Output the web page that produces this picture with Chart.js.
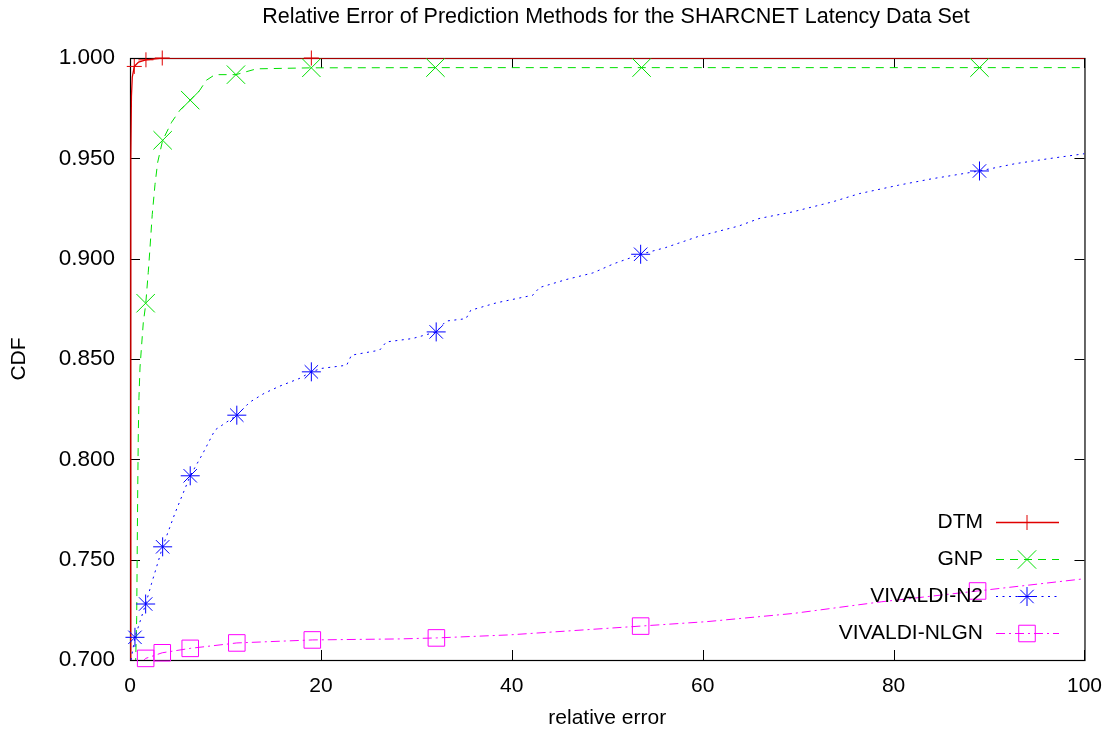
<!DOCTYPE html>
<html>
<head>
<meta charset="utf-8">
<title>Relative Error of Prediction Methods</title>
<script src="https://cdn.jsdelivr.net/npm/chart.js@4.4.1/dist/chart.umd.min.js"></script>
<style>
  html, body { margin: 0; padding: 0; background: #fff; }
  canvas { display: block; }
</style>
</head>
<body>
<canvas id="c" width="1116" height="731"></canvas>
<script>
// ---- text ----
const chartTitle = 'Relative Error of Prediction Methods for the SHARCNET Latency Data Set';
const xTitle = 'relative error';
const yTitle = 'CDF';
const seriesNames = ['DTM', 'GNP', 'VIVALDI-N2', 'VIVALDI-NLGN'];

// ---- axes ----
const xTicks = [0, 20, 40, 60, 80, 100];
const yTicks = [0.70, 0.75, 0.80, 0.85, 0.90, 0.95, 1.00];

// ---- DTM ----
const dtmX = [0.05, 0.07, 0.10, 0.15, 0.24, 0.45, 0.9, 1.67, 3.38, 19.0, 100];
const dtmY = [0.600, 0.850, 0.950, 0.981, 0.9905, 0.9958, 0.998, 0.9991, 1.0, 1.0, 1.0];
const dtmMarkX = [0.45, 1.67, 3.38, 19.0];
const dtmMarkY = [0.9958, 0.9991, 1.0, 1.0];

// ---- GNP ----
const gnpX = [0.55, 0.62, 0.70, 0.80, 0.87, 0.94, 1.05, 1.39, 1.64, 1.91, 2.09, 2.33, 2.62, 2.90, 3.42, 4.36, 5.23, 6.31, 7.32, 8.0, 8.9, 11.1, 13.25, 19.0, 32.0, 53.6, 89.0, 100];
const gnpY = [0.690, 0.705, 0.721, 0.780, 0.813, 0.831, 0.846, 0.868, 0.877, 0.893, 0.905, 0.922, 0.937, 0.948, 0.959, 0.968, 0.974, 0.979, 0.984, 0.9889, 0.9917, 0.9917, 0.9946, 0.9951, 0.9952, 0.9952, 0.9952, 0.9952];
const gnpMarkX = [1.64, 3.42, 6.31, 11.1, 19.0, 32.0, 53.6, 89.0];
const gnpMarkY = [0.8778, 0.959, 0.979, 0.9917, 0.9951, 0.9952, 0.9952, 0.9952];

// ---- VIVALDI-N2 ----
const n2X = [0.10, 0.52, 1.64, 2.27, 3.42, 4.7, 6.31, 7.64, 8.9, 11.19, 12.55, 14.1, 15.7, 17.8, 19.0, 20.05, 22.7, 23.2, 26.15, 26.85, 29.6, 32.08, 33.1, 35.2, 35.7, 38.4, 42.2, 42.9, 45.7, 48.5, 50.7, 53.5, 56.1, 59.5, 63.8, 65.9, 69.4, 73.6, 76.4, 80.5, 84.0, 89.0, 92.7, 96.2, 100];
const n2Y = [0.700, 0.7113, 0.7279, 0.7383, 0.7564, 0.773, 0.7918, 0.803, 0.8146, 0.822, 0.8285, 0.833, 0.8365, 0.8404, 0.8436, 0.8453, 0.8469, 0.8519, 0.8544, 0.8585, 0.8602, 0.8635, 0.8689, 0.8701, 0.8743, 0.878, 0.8818, 0.8856, 0.8896, 0.8929, 0.8975, 0.9022, 0.9055, 0.911, 0.9163, 0.920, 0.9233, 0.9283, 0.9324, 0.9366, 0.9398, 0.9437, 0.9473, 0.9498, 0.9523];
const n2MarkX = [0.52, 1.64, 3.42, 6.31, 11.19, 19.0, 32.08, 53.5, 89.0];
const n2MarkY = [0.7113, 0.7279, 0.7564, 0.7918, 0.822, 0.8436, 0.8635, 0.9022, 0.9437];

// ---- VIVALDI-NLGN ----
const nlgnX = [1.2, 1.64, 3.38, 6.31, 11.19, 19.1, 28.2, 32.1, 39.7, 53.5, 60.4, 69.5, 78.7, 88.8, 100];
const nlgnY = [0.6985, 0.7008, 0.7036, 0.7058, 0.7085, 0.710, 0.7105, 0.711, 0.7125, 0.7169, 0.7191, 0.7232, 0.729, 0.7344, 0.7405];
const nlgnMarkX = [1.64, 3.38, 6.31, 11.19, 19.1, 32.1, 53.5, 88.8];
const nlgnMarkY = [0.7008, 0.7036, 0.7058, 0.7085, 0.710, 0.711, 0.7169, 0.7344];

// ---- look ----
const FONT = '"Liberation Sans", Arial, Helvetica, sans-serif';
const FONT_SIZE = 21;
const styles = [
  { color: '#e00000', dash: [],           point: 'cross',    r: 7.5,  width: 1.3 },
  { color: '#00e000', dash: [8, 6],       point: 'crossRot', r: 13,   width: 1 },
  { color: '#0000ff', dash: [2, 4.5],     point: 'star',     r: 9.5,  width: 1 },
  { color: '#ff00ff', dash: [9, 4, 2, 4], point: 'rect',     r: 11.7, width: 1 }
];

const zip = (xs, ys) => xs.map((x, i) => ({ x, y: ys[i] }));
const lines = [zip(dtmX, dtmY), zip(gnpX, gnpY), zip(n2X, n2Y), zip(nlgnX, nlgnY)];
const marks = [zip(dtmMarkX, dtmMarkY), zip(gnpMarkX, gnpMarkY), zip(n2MarkX, n2MarkY), zip(nlgnMarkX, nlgnMarkY)];

const datasets = [];
seriesNames.forEach((name, i) => {
  const s = styles[i];
  const order = 4 - i;
  datasets.push({
    label: name,
    data: lines[i],
    showLine: true,
    borderColor: s.color,
    borderWidth: s.width,
    borderDash: s.dash,
    pointRadius: 0,
    fill: false,
    tension: 0,
    order
  });
  datasets.push({
    label: name + ' points',
    data: marks[i],
    showLine: false,
    pointStyle: s.point,
    pointRadius: s.r,
    pointBorderColor: s.color,
    pointBackgroundColor: 'rgba(0,0,0,0)',
    pointBorderWidth: 1,
    clip: false,
    order
  });
});

function strokeMarker(ctx, kind, x, y, r) {
  ctx.beginPath();
  const d = r * Math.SQRT1_2;
  if (kind === 'cross' || kind === 'star') {
    ctx.moveTo(x - r, y); ctx.lineTo(x + r, y);
    ctx.moveTo(x, y - r); ctx.lineTo(x, y + r);
  }
  if (kind === 'crossRot' || kind === 'star') {
    ctx.moveTo(x - d, y - d); ctx.lineTo(x + d, y + d);
    ctx.moveTo(x - d, y + d); ctx.lineTo(x + d, y - d);
  }
  if (kind === 'rect') {
    ctx.rect(x - d, y - d, 2 * d, 2 * d);
  }
  ctx.stroke();
}

// frame with inward ticks on all four sides
const framePlugin = {
  id: 'frame',
  beforeDatasetsDraw(chart) {
    const { ctx, chartArea: a, scales } = chart;
    ctx.save();
    ctx.strokeStyle = '#000';
    ctx.lineWidth = 1;
    ctx.setLineDash([]);
    ctx.beginPath();
    const L = 10;
    xTicks.forEach(v => {
      const px = Math.round(scales.x.getPixelForValue(v)) + 0.5;
      ctx.moveTo(px, a.bottom); ctx.lineTo(px, a.bottom - L);
      ctx.moveTo(px, a.top); ctx.lineTo(px, a.top + L);
    });
    yTicks.forEach(v => {
      const py = Math.round(scales.y.getPixelForValue(v)) + 0.5;
      ctx.moveTo(a.left, py); ctx.lineTo(a.left + L, py);
      ctx.moveTo(a.right, py); ctx.lineTo(a.right - L, py);
    });
    ctx.stroke();
    ctx.lineWidth = 1.2;
    ctx.strokeRect(a.left + 0.5, a.top + 0.5, a.right - a.left, a.bottom - a.top);
    ctx.restore();
  }
};

// title and in-plot key
const annotatePlugin = {
  id: 'annotate',
  afterDraw(chart) {
    const { ctx } = chart;
    ctx.save();
    ctx.fillStyle = '#000';
    ctx.font = '21.5px ' + FONT;
    ctx.textAlign = 'center';
    ctx.textBaseline = 'middle';
    ctx.fillText(chartTitle, 616, 17.5);

    ctx.font = FONT_SIZE + 'px ' + FONT;
    const rows = [522.5, 559.5, 596.5, 633.5];
    seriesNames.forEach((name, i) => {
      const s = styles[i];
      const y = rows[i];
      ctx.textAlign = 'right';
      ctx.fillStyle = '#000';
      ctx.fillText(name, 983, y);
      ctx.strokeStyle = s.color;
      ctx.lineWidth = s.width;
      ctx.setLineDash(s.dash);
      ctx.beginPath();
      ctx.moveTo(996, y); ctx.lineTo(1059, y);
      ctx.stroke();
      ctx.setLineDash([]);
      ctx.lineWidth = 1;
      strokeMarker(ctx, s.point, 1027, y, s.r);
    });
    ctx.restore();
  }
};

new Chart(document.getElementById('c'), {
  type: 'scatter',
  data: { datasets },
  options: {
    responsive: false,
    animation: false,
    events: [],
    layout: { padding: { top: 58, right: 30, bottom: 0, left: 0 } },
    plugins: {
      legend: { display: false },
      tooltip: { enabled: false },
      title: { display: false }
    },
    scales: {
      x: {
        type: 'linear',
        min: 0, max: 100,
        afterBuildTicks: s => { s.ticks = xTicks.map(v => ({ value: v })); },
        afterFit: s => { s.height = 71; },
        grid: { display: false, drawTicks: false },
        border: { display: false },
        ticks: { color: '#000', font: { family: FONT, size: FONT_SIZE }, padding: 14, maxRotation: 0 },
        title: { display: true, text: xTitle, color: '#000', font: { family: FONT, size: FONT_SIZE }, padding: { top: 0, bottom: 0 } }
      },
      y: {
        type: 'linear',
        min: 0.7, max: 1.0,
        afterBuildTicks: s => { s.ticks = yTicks.map(v => ({ value: v })); },
        afterFit: s => { s.width = 130; },
        grid: { display: false, drawTicks: false },
        border: { display: false },
        ticks: { color: '#000', font: { family: FONT, size: 22.5 }, padding: 15, callback: v => Number(v).toFixed(3) },
        title: { display: true, text: yTitle, color: '#000', font: { family: FONT, size: FONT_SIZE }, padding: { top: 7, bottom: 0 } }
      }
    }
  },
  plugins: [framePlugin, annotatePlugin]
});
</script>
</body>
</html>
